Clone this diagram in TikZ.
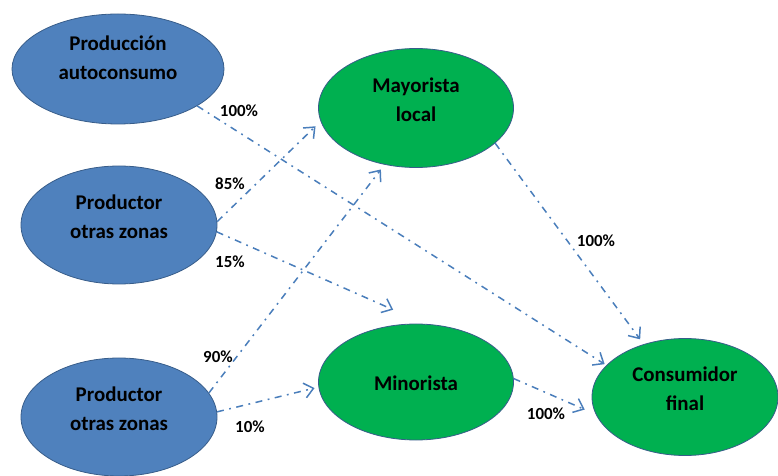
\documentclass[tikz,border=0pt]{standalone}
\usepackage{fontspec}
\setmainfont{Carlito}
\usetikzlibrary{shapes.geometric,arrows.meta}
\definecolor{nodeblue}{HTML}{4F81BD}
\definecolor{nodegreen}{HTML}{00B050}
\definecolor{outline}{HTML}{385D8A}
\definecolor{flowblue}{HTML}{4A7EBB}
\begin{document}
\begin{tikzpicture}[x=1bp,y=-1bp,
  bubble/.style={ellipse, draw=outline, line width=0.8bp, inner sep=0pt},
  supplier/.style={bubble, fill=nodeblue},
  trader/.style={bubble, fill=nodegreen},
  caption/.style={font=\bfseries\fontsize{21}{29.5}\selectfont, align=center, text=black, inner sep=0pt},
  share/.style={font=\bfseries\fontsize{17}{19}\selectfont, inner sep=0pt},
  flow/.style={draw=flowblue, line width=1.5bp,
    dash pattern=on 7bp off 5.5bp on 1.8bp off 5.5bp,
    -{Straight Barb[length=9bp,width=15bp]}}
]
\useasboundingbox (0,0) rectangle (778,476);

% actors of the supply chain
\node[supplier, minimum width=212bp, minimum height=110bp] (prodauto) at (118,69) {};
\node[supplier, minimum width=196bp, minimum height=118bp] (prodmid) at (119,225) {};
\node[supplier, minimum width=196bp, minimum height=118bp] (prodlow) at (119,417) {};
\node[trader, minimum width=195bp, minimum height=119bp] (mayorista) at (416,108) {};
\node[trader, minimum width=195bp, minimum height=116bp] (minorista) at (416,382) {};
\node[trader, minimum width=186bp, minimum height=117bp] (consumidor) at (685,397) {};

% names inside the bubbles
\node[caption] (tprodauto) at (118,58) {Producción\\autoconsumo};
\node[caption] (tprodmid) at (119,217) {Productor\\otras zonas};
\node[caption] (tprodlow) at (119,409) {Productor\\otras zonas};
\node[caption] (tmayorista) at (416,100) {Mayorista\\local};
\node[caption] (tminorista) at (416,383) {Minorista};
\node[caption] (tconsumidor) at (685,389) {Consumidor\\final};

% product flows
\draw[flow, shorten >=2bp] (prodauto.-25) -- (consumidor.158);
\draw[flow, shorten >=7bp] (prodmid.2) -- (mayorista.188);
\draw[flow, shorten >=35bp] (prodmid.-4) -- (minorista.81);
\draw[flow, shorten >=6bp] (prodlow.15) -- (mayorista.241);
\draw[flow, shorten >=4bp] (prodlow.3) -- (minorista.183);
\draw[flow, shorten >=6bp] (mayorista.-24) -- (consumidor.128);
\draw[flow, shorten >=12bp] (minorista.2) -- (consumidor.191);

% shares of each flow
\node[share] (s1) at (239,111) {100\%};
\node[share] (s2) at (230,184) {85\%};
\node[share] (s3) at (230,262) {15\%};
\node[share] (s4) at (596,241) {100\%};
\node[share] (s5) at (218,357) {90\%};
\node[share] (s6) at (250,427) {10\%};
\node[share] (s7) at (546,414) {100\%};
\end{tikzpicture}
\end{document}
